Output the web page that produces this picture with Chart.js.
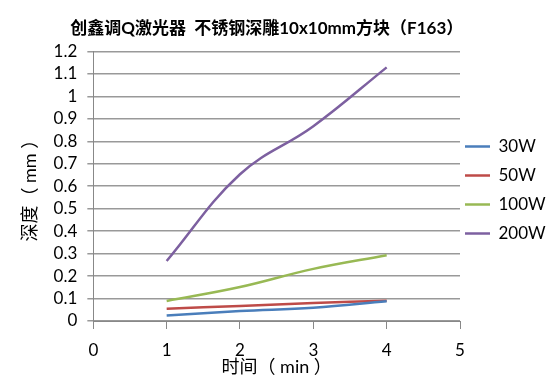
<!DOCTYPE html>
<html>
<head>
<meta charset="utf-8">
<script src="https://cdn.jsdelivr.net/npm/chart.js@4/dist/chart.umd.min.js"></script>
<style>
  html, body { margin: 0; padding: 0; background: #fff; }
  #wrap { width: 557px; height: 381px; }
</style>
</head>
<body>
<div id="wrap"><canvas id="depthChart"></canvas></div>
<script>
// time in minutes
const times = [1, 2, 3, 4];
const seriesNames = ['30W', '50W', '100W', '200W'];
const depth30W = [0.024, 0.044, 0.059, 0.088];
const depth50W = [0.055, 0.067, 0.08, 0.09];
const depth100W = [0.089, 0.151, 0.232, 0.293];
const depth200W = [0.267, 0.653, 0.867, 1.129];
const yTicks = [0, 0.1, 0.2, 0.3, 0.4, 0.5, 0.6, 0.7, 0.8, 0.9, 1, 1.1, 1.2];
const xTicks = [0, 1, 2, 3, 4, 5];

const colors = ['#4a7ebb', '#be4b48', '#98b954', '#7d60a0'];
const FONT = "Lato, 'Noto Sans CJK SC', sans-serif";

function pts(vals) {
    return times.map((t, i) => ({ x: t, y: vals[i] }));
}

const allSeries = [depth30W, depth50W, depth100W, depth200W];

// pull the legend a little closer to the plot (padding also sets the row gap)
const legendNudge = {
    id: 'legendNudge',
    beforeDraw(chart) {
        if (chart.legend) chart.legend.left = chart.chartArea.right - 7;
    }
};

new Chart(document.getElementById('depthChart'), {
    type: 'line',
    data: {
        datasets: allSeries.map((vals, i) => ({
            label: seriesNames[i],
            data: pts(vals),
            borderColor: colors[i],
            backgroundColor: colors[i],
            borderWidth: 2.5,
            pointRadius: 0,
            tension: 0.4,
            fill: false
        }))
    },
    plugins: [legendNudge],
    options: {
        responsive: true,
        maintainAspectRatio: false,
        animation: false,
        layout: { padding: { left: 19, right: 0, top: 2, bottom: 3 } },
        plugins: {
            title: {
                display: true,
                // trailing ideographic spaces nudge the centred title left, as in the original
                text: '创鑫调Q激光器  不锈钢深雕10x10mm方块（F163）\u3000\u3000\u3000',
                color: '#000',
                font: { family: FONT, size: 17, weight: 'bold' },
                padding: { top: 16, bottom: 13 }
            },
            legend: {
                position: 'right',
                maxWidth: 97,
                labels: {
                    usePointStyle: true,
                    pointStyle: 'line',
                    pointStyleWidth: 25,
                    boxWidth: 25,
                    color: '#000',
                    padding: 12,
                    font: { family: FONT, size: 17 }
                }
            },
            tooltip: { enabled: false }
        },
        scales: {
            x: {
                type: 'linear',
                min: 0,
                max: 5,
                afterBuildTicks: axis => { axis.ticks = xTicks.map(v => ({ value: v })); },
                grid: { drawOnChartArea: false, drawTicks: true, tickLength: 8, color: '#888' },
                border: { color: '#888' },
                ticks: { color: '#000', font: { family: FONT, size: 17 }, padding: 11, autoSkip: false },
                title: {
                    display: true,
                    text: '时间（ min ）',
                    color: '#000',
                    font: { family: FONT, size: 18 },
                    padding: { top: -15, bottom: 0 }
                }
            },
            y: {
                min: 0,
                max: 1.2,
                afterBuildTicks: axis => { axis.ticks = yTicks.map(v => ({ value: v })); },
                grid: { color: '#999', lineWidth: 1.5, tickLength: 6 },
                border: { color: '#888' },
                ticks: {
                    color: '#000',
                    font: { family: FONT, size: 17 },
                    padding: 10,
                    autoSkip: false,
                    callback: v => String(Math.round(v * 10) / 10)
                },
                title: {
                    display: true,
                    text: '深度（ mm ）',
                    color: '#000',
                    font: { family: FONT, size: 18 },
                    padding: { top: 0, bottom: 3 }
                }
            }
        }
    }
});
</script>
</body>
</html>
